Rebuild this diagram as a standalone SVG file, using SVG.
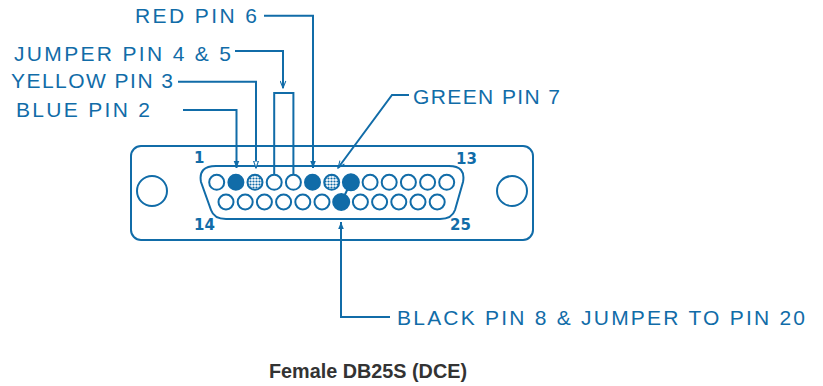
<svg xmlns="http://www.w3.org/2000/svg" width="823" height="386" viewBox="0 0 823 386">
<style>
.ln{fill:none;stroke:#116ca8;stroke-width:2}
.pin{fill:#fff;stroke:#116ca8;stroke-width:2}
.fill{fill:#116ca8;stroke:#116ca8;stroke-width:2}
.dot{fill:url(#stip);stroke:#116ca8;stroke-width:2}
.lbl{font-family:"Liberation Sans",Arial,sans-serif;font-size:21px;fill:#116ca8}
.num{font-family:"DejaVu Sans","Liberation Sans",sans-serif;font-size:15px;fill:#116ca8;font-weight:bold}
.title{font-family:"Liberation Sans",Arial,sans-serif;font-size:21px;font-weight:bold;fill:#333}
</style>
<defs>
<pattern id="stip" width="3" height="3" patternUnits="userSpaceOnUse">
<rect width="3" height="3" fill="#fff"/>
<circle cx="1.5" cy="1.5" r="1.1" fill="#116ca8"/>
</pattern>
<marker id="ah" viewBox="0 0 10 10" refX="10" refY="5" markerWidth="7" markerHeight="7" markerUnits="userSpaceOnUse" orient="auto">
<path d="M0,1 L10,5 L0,9 Z" fill="#116ca8"/>
</marker>
<marker id="ao" viewBox="0 0 10 10" refX="10" refY="5" markerWidth="8" markerHeight="7" markerUnits="userSpaceOnUse" orient="auto">
<path d="M0,1.5 L10,5 L0,8.5 Z" fill="#fff" stroke="#116ca8" stroke-width="1.5"/>
</marker>
<marker id="av" viewBox="0 0 10 10" refX="10" refY="5" markerWidth="9" markerHeight="7" markerUnits="userSpaceOnUse" orient="auto">
<path d="M0,1 L10,5 L0,9" fill="none" stroke="#116ca8" stroke-width="1.5"/>
</marker>
</defs>
<rect width="823" height="386" fill="#fff"/>
<g id="connector">
<rect class="ln" x="131" y="146" width="402" height="94" rx="10"/>
<circle class="ln" cx="152" cy="191" r="15"/>
<circle class="ln" cx="512" cy="191" r="15"/>
<path class="ln" d="M216,166 L449,166 Q466,166 463,182 L455,210 Q452,219 440,219 L226,219 Q214,219 211,210 L201,182 Q198,166 216,166 Z"/>
<text class="num" x="194" y="163">1</text>
<text class="num" x="456" y="164">13</text>
<text class="num" x="194" y="230">14</text>
<text class="num" x="450" y="230">25</text>
<line class="ln" x1="350.9" y1="182" x2="341.5" y2="202" stroke-width="3"/>
<g id="toprow">
<circle class="pin" cx="216.7" cy="182.3" r="7.5"/>
<circle class="fill" cx="235.9" cy="182.3" r="7.5"/>
<circle class="dot" cx="255.0" cy="182.3" r="7.5"/>
<circle class="pin" cx="274.2" cy="182.3" r="7.5"/>
<circle class="pin" cx="293.4" cy="182.3" r="7.5"/>
<circle class="fill" cx="312.5" cy="182.3" r="7.5"/>
<circle class="dot" cx="331.7" cy="182.3" r="7.5"/>
<circle class="fill" cx="350.9" cy="182.3" r="8"/>
<circle class="pin" cx="370.1" cy="182.3" r="7.5"/>
<circle class="pin" cx="389.2" cy="182.3" r="7.5"/>
<circle class="pin" cx="408.4" cy="182.3" r="7.5"/>
<circle class="pin" cx="427.6" cy="182.3" r="7.5"/>
<circle class="pin" cx="446.7" cy="182.3" r="7.5"/>
</g>
<g id="bottomrow">
<circle class="pin" cx="226.0" cy="202" r="7.5"/>
<circle class="pin" cx="245.2" cy="202" r="7.5"/>
<circle class="pin" cx="264.4" cy="202" r="7.5"/>
<circle class="pin" cx="283.6" cy="202" r="7.5"/>
<circle class="pin" cx="302.8" cy="202" r="7.5"/>
<circle class="pin" cx="322.0" cy="202" r="7.5"/>
<circle class="fill" cx="341.2" cy="202" r="8"/>
<circle class="pin" cx="360.4" cy="202" r="7.5"/>
<circle class="pin" cx="379.6" cy="202" r="7.5"/>
<circle class="pin" cx="398.8" cy="202" r="7.5"/>
<circle class="pin" cx="418.0" cy="202" r="7.5"/>
<circle class="pin" cx="437.2" cy="202" r="7.5"/>
</g>
</g>
<g id="connectors">
<path class="ln" d="M264,15.7 H313 V168" marker-end="url(#ah)"/>
<path class="ln" d="M235,51 H283 V88" marker-end="url(#av)" stroke-width="1.6"/>
<path class="ln" d="M274.2,174 V93 H293.4 V174"/>
<path class="ln" d="M178,81.7 H256 V168" marker-end="url(#ao)"/>
<path class="ln" d="M183,110 H236.5 V168" marker-end="url(#ah)"/>
<path class="ln" d="M409,95 H392 L338,168" marker-end="url(#av)"/>
<path class="ln" d="M390,317 H341 V222" marker-end="url(#ah)"/>
</g>
<g id="labels">
<text class="lbl" x="135" y="23" textLength="122" lengthAdjust="spacing">RED PIN 6</text>
<text class="lbl" x="14" y="61" textLength="217" lengthAdjust="spacing">JUMPER PIN 4 &amp; 5</text>
<text class="lbl" x="11" y="88" textLength="162" lengthAdjust="spacing">YELLOW PIN 3</text>
<text class="lbl" x="16" y="117" textLength="134" lengthAdjust="spacing">BLUE PIN 2</text>
<text class="lbl" x="413" y="104" textLength="147" lengthAdjust="spacing">GREEN PIN 7</text>
<text class="lbl" x="397" y="325" textLength="408" lengthAdjust="spacing">BLACK PIN 8 &amp; JUMPER TO PIN 20</text>
</g>
<text class="title" x="269" y="378" textLength="198" lengthAdjust="spacingAndGlyphs">Female DB25S (DCE)</text>
</svg>
